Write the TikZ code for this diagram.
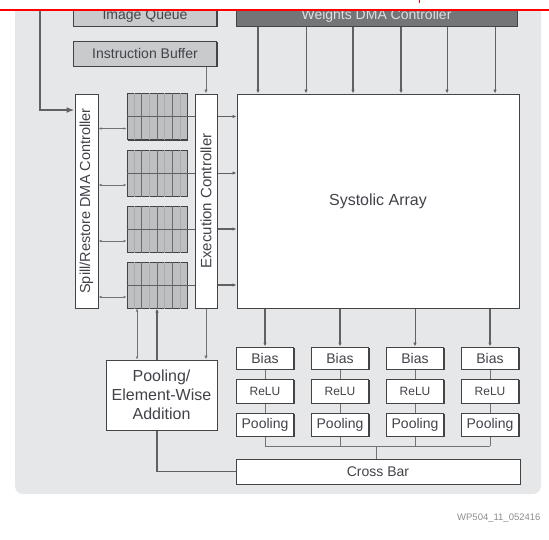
\documentclass[tikz,border=0pt]{standalone}
\usepackage{graphicx}
\usepackage{fontspec}
\setmainfont{Liberation Sans}
\usetikzlibrary{arrows.meta, shadows, calc}
\definecolor{panelgray}{RGB}{230,231,233}
\definecolor{boxgray}{RGB}{201,202,204}
\definecolor{bankgray}{RGB}{190,191,193}
\definecolor{dmagray}{RGB}{116,117,119}
\definecolor{edgegray}{RGB}{68,68,70}
\definecolor{labelgray}{RGB}{66,66,74}

\begin{document}
\begin{tikzpicture}[
    x=1pt, y=-1pt,
    font=\fontsize{14}{16}\selectfont,
    box/.style={draw=edgegray, line width=1pt, fill=#1, inner sep=0pt, text=labelgray,
        drop shadow={shadow xshift=1.3pt, shadow yshift=-1.3pt, opacity=1, fill=edgegray}},
    box/.default=white,
    link/.style={draw=black!55, line width=0.8pt},
    wire/.style={draw=black!62, line width=1.8pt},
    tip/.style={-{Latex[length=4pt, width=3.5pt]}},
    twotip/.style={{Latex[length=3pt, width=2.6pt]}-{Latex[length=3pt, width=2.6pt]}}
]

    \useasboundingbox (0,0) rectangle (549,539);

    % ==========================================
    % PANEL
    % ==========================================
    \fill[panelgray, rounded corners=8pt] (15,-10) rectangle (541,494);

    % ==========================================
    % COORDINATES
    % ==========================================
    \coordinate (in_top)  at (40, 0);    % input line, comes from above
    \coordinate (in_bend) at (40, 110);
    \coordinate (bus)     at (376, 446); % joins the four pooling outputs

    % ==========================================
    % TOP ROW
    % ==========================================
    \node[box=boxgray, minimum width=143pt, minimum height=20pt] (imgq) at (145, 16) {Image Queue};
    \node[box=dmagray, text=black!12, minimum width=281pt, minimum height=20pt] (wdma) at (376.5, 16) {Weights DMA Controller};
    \node[box=boxgray, minimum width=143pt, minimum height=25pt] (ibuf) at (145, 53.5) {Instruction Buffer};

    % ==========================================
    % MIDDLE ROW
    % ==========================================
    \node[box, minimum width=23pt, minimum height=214pt] (spill) at (86.5, 201)
        {\rotatebox{90}{\fontsize{14.5}{16}\selectfont Spill/Restore DMA Controller}};
    \node[box, minimum width=22pt, minimum height=214pt] (exec) at (206, 201)
        {\rotatebox{90}{\fontsize{15}{16}\selectfont Execution Controller}};
    \node[box, minimum width=282pt, minimum height=214pt,
          font=\fontsize{16}{18}\selectfont] (sys) at (378, 201) {Systolic Array};

    % Memory banks
    \node[box=bankgray, minimum width=60pt, minimum height=46pt] (b1) at (157, 116.5) {};
    \node[box=bankgray, minimum width=60pt, minimum height=46pt] (b2) at (157, 173) {};
    \node[box=bankgray, minimum width=60pt, minimum height=46pt] (b3) at (157, 229) {};
    \node[box=bankgray, minimum width=60pt, minimum height=46pt] (b4) at (157, 285) {};

    % ==========================================
    % BOTTOM ROW
    % ==========================================
    \foreach \c/\x in {1/265, 2/340, 3/415, 4/490} {
        \node[box, minimum width=57pt, minimum height=22pt] (bias\c) at (\x, 358) {Bias};
        \node[box, minimum width=57pt, minimum height=24pt, font=\fontsize{12}{14}\selectfont] (relu\c) at (\x, 391) {ReLU};
        \node[box, minimum width=57pt, minimum height=23pt] (pl\c) at (\x, 424.5) {Pooling};
    }
    \node[box, minimum width=284pt, minimum height=25pt] (xbar) at (378, 471.5) {Cross Bar};

    % ==========================================
    % CONNECTORS
    % ==========================================
    % Input into the spill/restore controller
    \draw[wire, -{Latex[length=8pt, width=6pt]}] (in_top) -- (in_bend) -- (in_bend -| spill.west);

    % Weights into the array
    \foreach \x/\lw in {258/1.8, 306/0.8, 353/1.8, 401/1.8, 447/0.8, 495/0.8}
        \draw[tip, draw=black!62, line width=\lw pt] (\x,0 |- wdma.south) -- (\x,0 |- sys.north);

    % Instructions into the execution controller
    \draw[link, tip] (exec.north |- ibuf.south) -- (exec.north);

    % Banks: grid, spill links, links through the controller
    \foreach \b/\lw in {1/0.8, 2/0.8, 3/1.8, 4/1.8} {
        \foreach \f in {0.125, 0.375, 0.625, 0.875}
            \draw[black!32, line width=0.4pt] ($(b\b.north west)!\f!(b\b.north east)$) -- ($(b\b.south west)!\f!(b\b.south east)$);
        \foreach \f in {0.25, 0.5, 0.75}
            \draw[black!58, line width=0.9pt] ($(b\b.north west)!\f!(b\b.north east)$) -- ($(b\b.south west)!\f!(b\b.south east)$);
        \draw[black!62, line width=0.9pt] (b\b.west) -- (b\b.east -| exec.west);
        \draw[link, twotip] ([yshift=-12pt]b\b.west -| spill.east) -- ([yshift=-12pt]b\b.west);
        \draw[tip, draw=black!62, line width=\lw pt] (b\b.east -| exec.east) -- (b\b.east -| sys.west);
    }

    % Array outputs through bias, relu, pooling
    \foreach \c/\lw in {1/1.8, 2/1.8, 3/0.8, 4/1.8} {
        \draw[tip, draw=black!62, line width=\lw pt] (bias\c.north |- sys.south) -- (bias\c.north);
        \draw[link] (bias\c.south) -- (relu\c.north);
        \draw[link] (relu\c.south) -- (pl\c.north);
        \draw[link] (pl\c.south) -- (pl\c.south |- bus);
    }
    \draw[link] (pl1.south |- bus) -- (pl4.south |- bus);
    \draw[link] (bus) -- (bus |- xbar.north);

    % Cross bar back to the last bank
    \draw[wire, tip] (xbar.west) -| (b4.south);

    % Pooling / element-wise block
    \node[box, minimum width=111pt, minimum height=70pt, align=center,
          font=\fontsize{16}{19}\selectfont] (pool) at (161.5, 395)
          {Pooling/\\Element-Wise\\Addition};
    \draw[link, twotip] ([xshift=-20pt]b4.south) -- ([xshift=-20pt]b4.south |- pool.north);
    \draw[link, tip] (exec.south) -- (exec.south |- pool.north);

    % ==========================================
    % CUT EDGE AND FIGURE NUMBER
    % ==========================================
    \fill[white] (0,0) rectangle (549,9);
    \draw[red, line width=1.8pt] (0,10) -- (549,10);
    \draw[red, line width=0.8pt] (419,0) -- (419,3);
    \node[anchor=east, text=black!45, font=\fontsize{9.5}{11}\selectfont] (figid) at (544, 518) {WP504\_11\_052416};

\end{tikzpicture}
\end{document}
